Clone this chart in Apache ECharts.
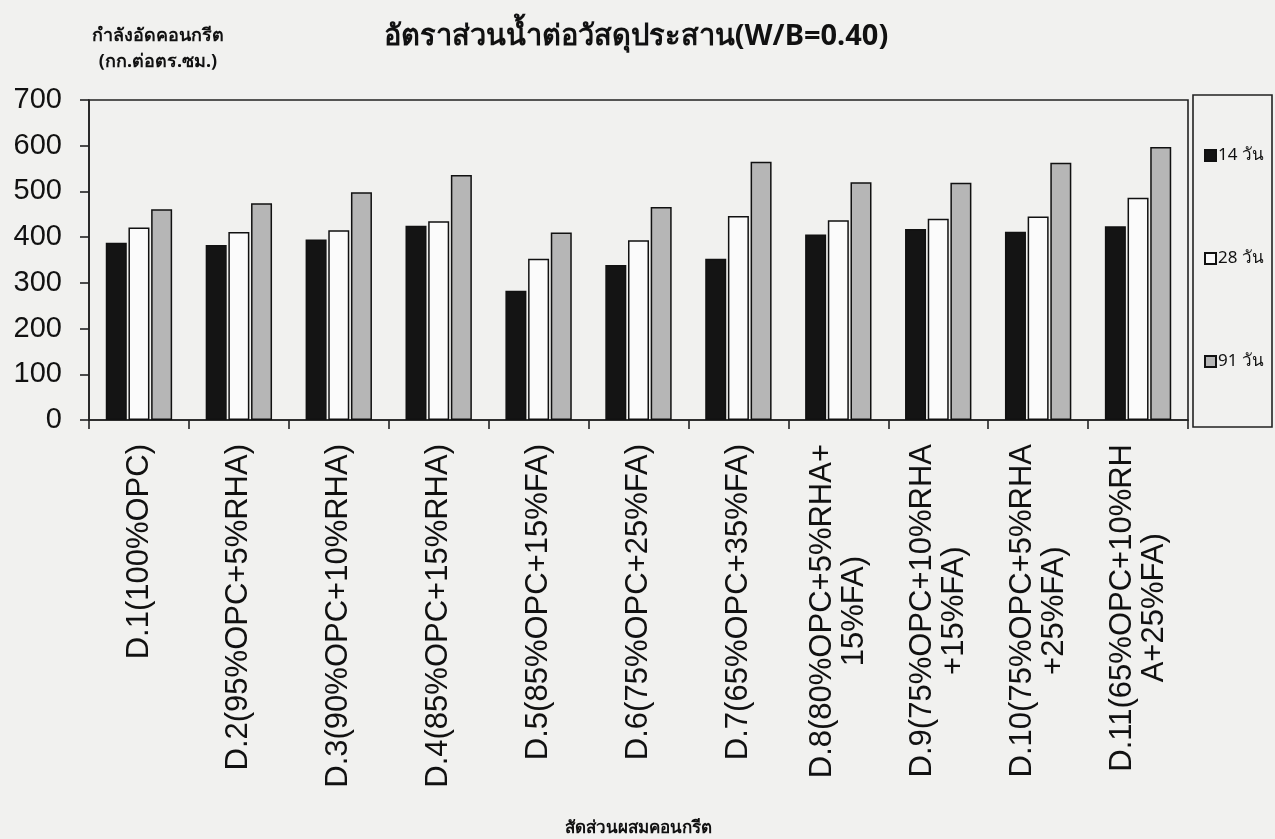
<!DOCTYPE html>
<html>
<head>
<meta charset="utf-8">
<script src="https://cdn.jsdelivr.net/npm/echarts@6/dist/echarts.min.js"></script>
<style>
  html, body { margin: 0; padding: 0; background: #f1f1ef; }
  #chart { width: 1275px; height: 839px; }
</style>
</head>
<body>
<div id="chart"></div>
<script>
// Mix designs (W/B = 0.40)
const categories = [
  'D.1(100%OPC)',
  'D.2(95%OPC+5%RHA)',
  'D.3(90%OPC+10%RHA)',
  'D.4(85%OPC+15%RHA)',
  'D.5(85%OPC+15%FA)',
  'D.6(75%OPC+25%FA)',
  'D.7(65%OPC+35%FA)',
  'D.8(80%OPC+5%RHA+\n15%FA)',
  'D.9(75%OPC+10%RHA\n+15%FA)',
  'D.10(75%OPC+5%RHA\n+25%FA)',
  'D.11(65%OPC+10%RH\nA+25%FA)'
];

// Compressive strength (ksc) by curing age
const day14 = [388, 383, 395, 425, 283, 339, 353, 406, 418, 412, 424];
const day28 = [421, 411, 415, 435, 353, 393, 446, 437, 440, 445, 486];
const day91 = [461, 474, 498, 536, 410, 466, 565, 520, 519, 563, 597];

const seriesNames = ['14 วัน', '28 วัน', '91 วัน'];
const yTicks = { min: 0, max: 700, interval: 100 };

const thaiFont = '"Noto Sans", "DejaVu Sans", sans-serif';
const latinFont = '"Liberation Sans", Arial, sans-serif';

const chart = echarts.init(document.getElementById('chart'));

const barCommon = {
  type: 'bar',
  barWidth: 21,
  barGap: '8%'
};

// each line of a wrapped category label is centred on the others
const centredLines = value => value.split('\n').map(s => '{c|' + s + '}').join('\n');

chart.setOption({
  backgroundColor: '#f1f1ef',
  animation: false,
  title: {
    text: 'อัตราส่วนน้ำต่อวัสดุประสาน(W/B=0.40)',
    left: 631,
    top: 17,
    textAlign: 'center',
    textStyle: { fontFamily: thaiFont, fontSize: 29, fontWeight: 'bold', color: '#111' }
  },
  legend: {
    orient: 'vertical',
    left: 1199,
    top: 142,
    itemGap: 86,
    itemWidth: 11,
    itemHeight: 11,
    icon: 'rect',
    textStyle: { fontFamily: thaiFont, fontSize: 17, color: '#111', padding: [0, 0, 0, -3] },
    data: seriesNames
  },
  graphic: [
    {
      type: 'rect',
      shape: { x: 1193, y: 95, width: 79, height: 332 },
      style: { fill: 'transparent', stroke: '#222', lineWidth: 1.6 },
      silent: true
    },
    {
      type: 'text',
      x: 158,
      y: 23,
      style: {
        text: 'กำลังอัดคอนกรีต\n(กก.ต่อตร.ซม.)',
        font: 'bold 18px ' + thaiFont,
        fill: '#111',
        align: 'center',
        lineHeight: 26
      }
    }
  ],
  grid: {
    left: 89,
    right: 87,
    top: 100,
    bottom: 419,
    show: true,
    borderColor: '#222',
    borderWidth: 1.6,
    backgroundColor: 'transparent'
  },
  xAxis: {
    type: 'category',
    data: categories,
    name: 'สัดส่วนผสมคอนกรีต',
    nameLocation: 'middle',
    nameGap: 400,
    nameTextStyle: { fontFamily: thaiFont, fontSize: 17, fontWeight: 'bold', color: '#111' },
    axisLine: { lineStyle: { color: '#222', width: 1.6 } },
    axisTick: { show: true, length: 9, inside: false, lineStyle: { color: '#222', width: 1.6 } },
    axisLabel: {
      rotate: 90,
      margin: 24,
      interval: 0,
      align: 'right',
      formatter: centredLines,
      rich: {
        c: {
          align: 'center',
          fontFamily: latinFont,
          fontSize: 31,
          lineHeight: 32,
          color: '#111'
        }
      }
    }
  },
  yAxis: {
    type: 'value',
    min: yTicks.min,
    max: yTicks.max,
    interval: yTicks.interval,
    splitLine: { show: false },
    axisLine: { show: true, lineStyle: { color: '#222', width: 1.6 } },
    axisTick: { show: true, length: 9, lineStyle: { color: '#222', width: 1.6 } },
    axisLabel: { fontFamily: latinFont, fontSize: 29, color: '#111', margin: 27 }
  },
  series: [
    Object.assign({}, barCommon, { name: seriesNames[0], data: day14,
      itemStyle: { color: '#141414', borderColor: '#111', borderWidth: 1.5 } }),
    Object.assign({}, barCommon, { name: seriesNames[1], data: day28,
      itemStyle: { color: '#fbfbfb', borderColor: '#111', borderWidth: 1.5 } }),
    Object.assign({}, barCommon, { name: seriesNames[2], data: day91,
      itemStyle: { color: '#b6b6b6', borderColor: '#111', borderWidth: 1.5 } })
  ]
});
</script>
</body>
</html>
